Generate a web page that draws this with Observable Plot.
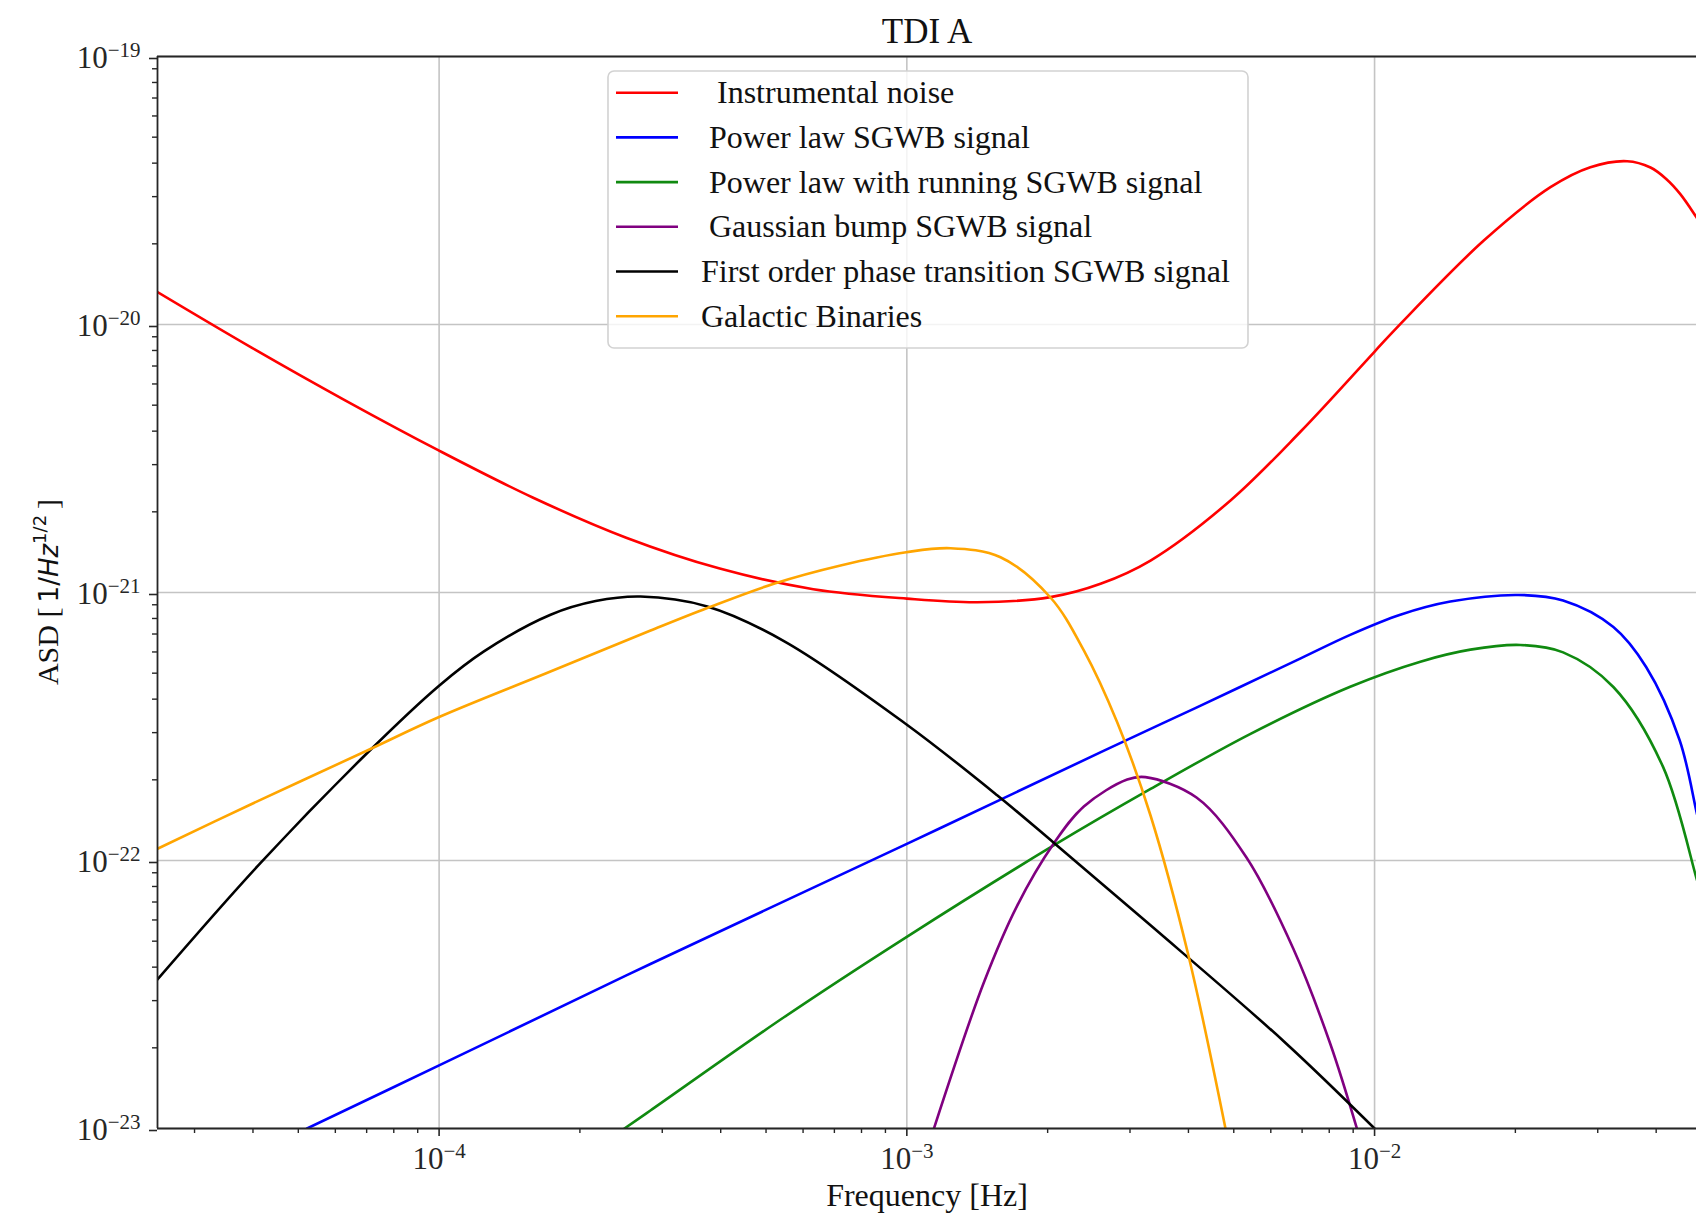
<!DOCTYPE html>
<html>
<head>
<meta charset="utf-8">
<script src="https://cdn.jsdelivr.net/npm/d3@7"></script>
<script src="https://cdn.jsdelivr.net/npm/@observablehq/plot@0.6"></script>
<style>
  html, body { margin: 0; padding: 0; background: #fff; overflow: hidden; }
  #chart svg { max-width: none !important; }
</style>
</head>
<body>
<div id="chart"></div>
<script>
// ---------- data ----------
const titleText = "TDI A";
const xLabel = "Frequency [Hz]";
const seriesNames = [
  "  Instrumental noise",
  " Power law SGWB signal",
  " Power law with running SGWB signal",
  " Gaussian bump SGWB signal",
  "First order phase transition SGWB signal",
  "Galactic Binaries"
];
const seriesColors = ["#ff0000", "#0000ff", "#108a10", "#800080", "#000000", "#ffa500"];

const majorX = [1e-4, 1e-3, 1e-2];
const majorY = [1e-23, 1e-22, 1e-21, 1e-20, 1e-19];
const xDomain = [2.5e-5, 5e-2];
const yDomain = [1e-23, 1e-19];

const noiseF = [2.5e-5, 3.981e-5, 6.31e-5, 1.0e-4, 1.585e-4, 2.512e-4, 3.981e-4, 6.31e-4, 1.0e-3, 1.414e-3, 2.028e-3, 2.595e-3, 3.319e-3, 4.92e-3, 6.95e-3, 9.96e-3, 1.136e-2, 1.712e-2, 2.377e-2, 2.893e-2, 3.467e-2, 3.89e-2, 4.197e-2, 4.505e-2, 4.87e-2, 5.0e-2];
const noiseA = [1.321e-20, 8.18e-21, 5.2e-21, 3.382e-21, 2.262e-21, 1.601e-21, 1.228e-21, 1.029e-21, 9.49e-22, 9.2e-22, 9.61e-22, 1.078e-21, 1.316e-21, 2.204e-21, 3.988e-21, 7.86e-21, 1.006e-20, 2.057e-20, 3.253e-20, 3.863e-20, 4.067e-20, 3.853e-20, 3.5e-20, 3.066e-20, 2.522e-20, 2.349e-20];

const powerF = [5.22e-5, 1.0e-4, 2.83e-4, 1.0e-3, 2.64e-3, 4.16e-3, 6.95e-3, 8.87e-3, 1.135e-2, 1.452e-2, 2.03e-2, 2.53e-2, 3.24e-2, 3.81e-2, 4.49e-2, 4.87e-2, 5.0e-2];
const powerA = [1.0e-23, 1.72e-23, 4.11e-23, 1.153e-22, 2.57e-22, 3.72e-22, 5.68e-22, 6.95e-22, 8.26e-22, 9.25e-22, 9.79e-22, 9.33e-22, 7.43e-22, 5.26e-22, 2.81e-22, 1.54e-22, 1.24e-22];

const runningF = [2.49e-4, 2.83e-4, 5.46e-4, 9.98e-4, 2.06e-3, 3.32e-3, 5.43e-3, 8.87e-3, 1.253e-2, 1.603e-2, 2.05e-2, 2.53e-2, 3.24e-2, 4.14e-2, 4.87e-2, 5.0e-2];
const runningA = [1.0e-23, 1.167e-23, 2.6e-23, 5.18e-23, 1.138e-22, 1.849e-22, 2.97e-22, 4.45e-22, 5.52e-22, 6.12e-22, 6.37e-22, 5.98e-22, 4.44e-22, 2.23e-22, 8.67e-23, 7.36e-23];

const bumpF = [1.1427e-3, 1.461e-3, 1.722e-3, 2.061e-3, 2.39e-3, 2.959e-3, 3.237e-3, 4.162e-3, 5.323e-3, 6.7e-3, 8.036e-3, 9.167e-3];
const bumpA = [1.0e-23, 3.505e-23, 6.79e-23, 1.157e-22, 1.59e-22, 2.005e-22, 2.047e-22, 1.718e-22, 1.026e-22, 4.693e-23, 2.076e-23, 1.0e-23];

const foptF = [2.5e-5, 4.153e-5, 7.02e-5, 1.0e-4, 1.247e-4, 1.731e-4, 2.161e-4, 2.696e-4, 3.744e-4, 5.46e-4, 9.97e-4, 1.56e-3, 2.061e-3, 3.319e-3, 6.41e-3, 1.0e-2];
const foptA = [3.6e-23, 9.8e-23, 2.518e-22, 4.49e-22, 6.03e-22, 8.26e-22, 9.29e-22, 9.66e-22, 8.87e-22, 6.59e-22, 3.226e-22, 1.752e-22, 1.165e-22, 5.73e-23, 2.108e-23, 1.0e-23];

const gbF = [2.5e-5, 3.954e-5, 7.02e-5, 1.0e-4, 1.689e-4, 2.832e-4, 3.744e-4, 5.196e-4, 7.216e-4, 9.97e-4, 1.24e-3, 1.586e-3, 2.028e-3, 2.39e-3, 2.818e-3, 3.319e-3, 4.0e-3, 4.8e-3];
const gbA = [1.106e-22, 1.618e-22, 2.573e-22, 3.43e-22, 4.985e-22, 7.21e-22, 8.75e-22, 1.078e-21, 1.261e-21, 1.413e-21, 1.463e-21, 1.354e-21, 9.58e-22, 6.08e-22, 3.27e-22, 1.472e-22, 4.42e-23, 1.0e-23];

const seriesF = [noiseF, powerF, runningF, bumpF, foptF, gbF];
const seriesA = [noiseA, powerA, runningA, bumpA, foptA, gbA];

// ---------- build ----------
const rows = seriesF.map((fs, i) => fs.map((f, j) => ({f, a: seriesA[i][j], s: i})));

function minorTicks(lo, hi) {
  const out = [];
  for (let e = Math.floor(Math.log10(lo)); e <= Math.ceil(Math.log10(hi)); e++) {
    for (let k = 2; k <= 9; k++) {
      const v = k * Math.pow(10, e);
      if (v >= lo && v <= hi) out.push(v);
    }
  }
  return out;
}
const minorX = minorTicks(xDomain[0], xDomain[1]);
const minorY = minorTicks(yDomain[0], yDomain[1]);

const axisColor = "#262626";
const fmtExp = d => "10^\u2212" + Math.round(-Math.log10(d));

const plot = Plot.plot({
  width: 1701,
  height: 1218,
  marginLeft: 157,
  marginRight: 0,
  marginTop: 56,
  marginBottom: 90,
  style: {fontFamily: "'Liberation Serif', serif", fontSize: "31px", background: "#fff", color: axisColor},
  x: {type: "log", domain: xDomain, label: null},
  y: {type: "log", domain: yDomain, label: null},
  marks: [
    Plot.gridX(majorX, {stroke: "#c4c4c4", strokeOpacity: 1, strokeWidth: 1.6}),
    Plot.gridY(majorY, {stroke: "#c4c4c4", strokeOpacity: 1, strokeWidth: 1.6}),
    ...rows.map((r, i) => Plot.line(r, {
      x: "f", y: "a", stroke: seriesColors[i], strokeWidth: 2.6, curve: "catmull-rom", clip: true
    })),
    Plot.ruleY([yDomain[1]], {stroke: axisColor, strokeWidth: 1.8}),
    Plot.ruleY([yDomain[0]], {stroke: axisColor, strokeWidth: 1.8}),
    Plot.ruleX([xDomain[0]], {stroke: axisColor, strokeWidth: 1.8}),
    Plot.ruleX([xDomain[1]], {stroke: axisColor, strokeWidth: 1.8}),
    Plot.axisX(minorX, {anchor: "bottom", tickSize: 5, tickFormat: () => "", label: null, stroke: axisColor, strokeWidth: 1.4}),
    Plot.axisY(minorY, {anchor: "left", tickSize: 5, tickFormat: () => "", label: null, stroke: axisColor, strokeWidth: 1.4}),
    Plot.axisX(majorX, {anchor: "bottom", tickSize: 8, tickPadding: 10, tickFormat: fmtExp, label: null,
      stroke: axisColor, strokeWidth: 1.6, fontSize: 31, fill: axisColor}),
    Plot.axisY(majorY, {anchor: "left", tickSize: 8, tickPadding: 9, tickFormat: fmtExp, label: null,
      stroke: axisColor, strokeWidth: 1.6, fontSize: 31, fill: axisColor, dy: 2})
  ]
});
plot.style.maxWidth = "none";
plot.style.overflow = "visible";
document.getElementById("chart").appendChild(plot);

const svg = d3.select(plot);

// superscript exponents in tick labels
svg.selectAll("text").each(function () {
  const s = this.textContent;
  if (s.includes("^")) {
    const [b, e] = s.split("^");
    const t = d3.select(this);
    t.text(null);
    t.append("tspan").text(b);
    t.append("tspan").attr("dy", -11).attr("font-size", 21).text(e);
  }
});

// title
svg.append("text")
  .attr("x", 927).attr("y", 43)
  .attr("text-anchor", "middle")
  .attr("font-family", "'Liberation Serif', serif")
  .attr("font-size", 35)
  .attr("fill", "#111")
  .text(titleText);

// x label
svg.append("text")
  .attr("x", 927).attr("y", 1206)
  .attr("text-anchor", "middle")
  .attr("font-family", "'Liberation Serif', serif")
  .attr("font-size", 32)
  .attr("fill", "#111")
  .text(xLabel);

// y label: ASD [1/Hz^{1/2}]
const yl = svg.append("text")
  .attr("transform", "translate(58,592) rotate(-90)")
  .attr("text-anchor", "middle")
  .attr("fill", "#111")
  .style("white-space", "pre");
yl.append("tspan").attr("font-family", "'Liberation Serif', serif").attr("font-size", 30).text("ASD [");
yl.append("tspan").attr("font-family", "'DejaVu Sans', sans-serif").attr("font-size", 26).text("\u20091/");
yl.append("tspan").attr("font-family", "'DejaVu Sans', sans-serif").attr("font-style", "italic").attr("font-size", 26).text("Hz");
yl.append("tspan").attr("font-family", "'DejaVu Sans', sans-serif").attr("font-size", 18).attr("dy", -12).text("1/2");
yl.append("tspan").attr("font-family", "'Liberation Serif', serif").attr("font-size", 30).attr("dy", 12).text("\u2009]");

// legend
const lg = svg.append("g").attr("text-anchor", "start");
lg.append("rect")
  .attr("x", 608).attr("y", 71).attr("width", 640).attr("height", 277).attr("rx", 6)
  .attr("fill", "#fff").attr("fill-opacity", 0.8)
  .attr("stroke", "#d2d2d2").attr("stroke-width", 1.6);
seriesNames.forEach((name, i) => {
  const y = 92.7 + i * 44.7;
  lg.append("line")
    .attr("x1", 616).attr("x2", 678).attr("y1", y).attr("y2", y)
    .attr("stroke", seriesColors[i]).attr("stroke-width", 2.6);
  lg.append("text")
    .attr("x", 701).attr("y", y).attr("dy", "0.33em")
    .attr("text-anchor", "start")
    .attr("font-family", "'Liberation Serif', serif")
    .attr("font-size", 32)
    .attr("fill", "#111")
    .style("white-space", "pre")
    .text(name);
});
</script>
</body>
</html>
